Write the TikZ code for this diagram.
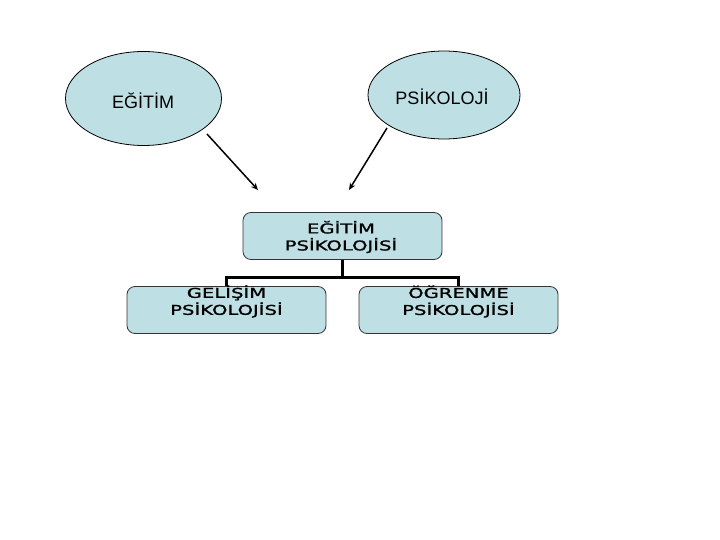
\documentclass[tikz,border=0pt]{standalone}
\usepackage{fontspec}
\setmainfont{Liberation Sans}
\newfontfamily\boxfont{DejaVu Sans}[FakeStretch=1.45,FakeBold=1.2]
\usetikzlibrary{shapes.geometric,arrows.meta}
\definecolor{paleblue}{RGB}{190,224,228}
\begin{document}
\begin{tikzpicture}[x=1pt,y=-1pt,
  bubble/.style={ellipse,draw=black,line width=0.8pt,fill=paleblue,inner sep=0pt,font=\fontsize{18}{20}\selectfont},
  topicbox/.style={rectangle,rounded corners=8pt,draw=black!80,line width=0.8pt,fill=paleblue,minimum width=199pt,minimum height=47pt,inner sep=0pt},
  boxtext/.style={align=center,font=\boxfont\fontsize{13.5}{17}\selectfont,inner sep=0pt},
  arr/.style={line width=1.5pt,-{Stealth[length=7pt,width=6pt]}},
  tree/.style={line width=3pt}]
\useasboundingbox (0,0) rectangle (720,540);
\node[bubble,minimum width=156pt,minimum height=94pt] (egitim) at (143.5,98.5) {};
\node[font=\fontsize{18}{20}\selectfont] (egitimt) at (143,101) {EĞİTİM};
\node[bubble,minimum width=152pt,minimum height=88pt] (psik) at (444,95) {};
\node[font=\fontsize{18}{20}\selectfont] (psikt) at (442,97) {PSİKOLOJİ};
\node[topicbox] (center) at (342.5,236) {};
\node[topicbox] (left) at (226.5,310) {};
\node[topicbox] (right) at (458.5,310) {};
\node[boxtext] (centert) at (341,237) {EĞİTİM\\PSİKOLOJİSİ};
\node[boxtext] (leftt) at (226.5,301.5) {GELİŞİM\\PSİKOLOJİSİ};
\node[boxtext] (rightt) at (458.5,301.5) {ÖĞRENME\\PSİKOLOJİSİ};
\coordinate (s1) at (207,134);
\coordinate (s2) at (387,128);
\coordinate (e1) at (258,190);
\coordinate (e2) at (349,190);
\draw[arr] (s1) -- (e1);
\draw[arr] (s2) -- (e2);
\coordinate (j) at (342.5,277);
\draw[tree] (center.south) -- (j);
\draw[tree] (j) -| (left.north);
\draw[tree] (j) -| (right.north);
\end{tikzpicture}
\end{document}
